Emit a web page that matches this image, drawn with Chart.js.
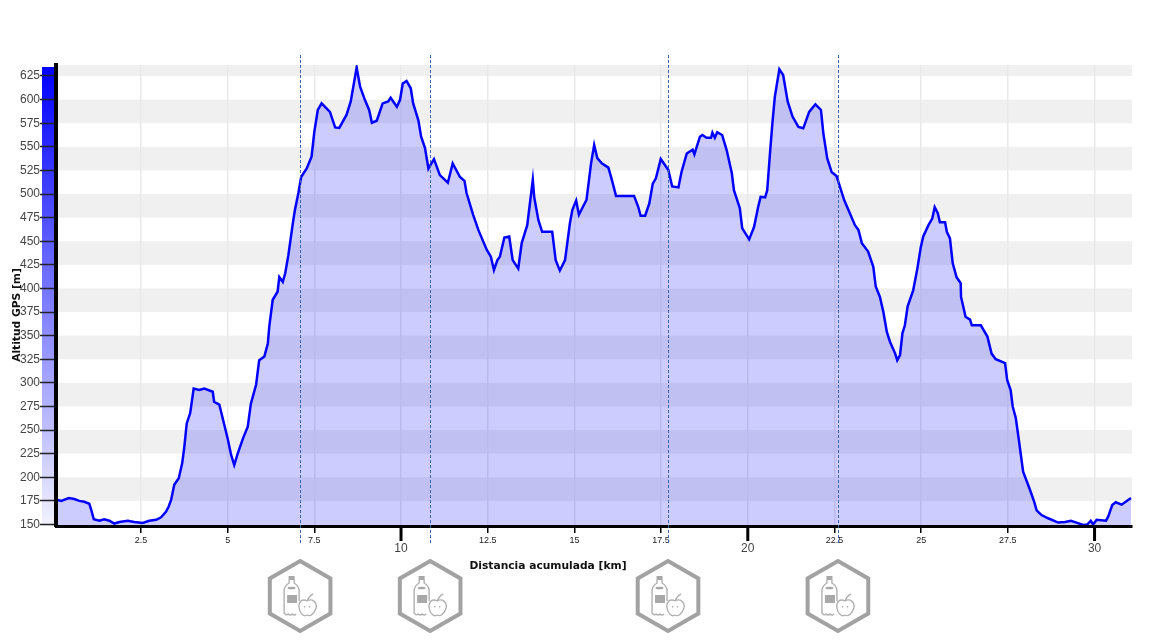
<!DOCTYPE html>
<html>
<head>
<meta charset="utf-8">
<title>Perfil de altitud</title>
<script src="https://cdn.jsdelivr.net/npm/chart.js@4/dist/chart.umd.min.js"></script>
<style>
html, body { margin: 0; padding: 0; background: #fff; }
canvas { display: block; }
</style>
</head>
<body>
<canvas id="perfil" width="1175" height="642"></canvas>
<script>
// perfil
var distancias = [0.05,0.10,0.20,0.42,0.58,0.72,0.87,1.01,1.07,1.14,1.30,1.44,1.59,1.73,1.88,2.12,2.31,2.55,2.74,2.94,3.08,3.22,3.30,3.37,3.46,3.59,3.69,3.75,3.82,3.92,4.02,4.18,4.33,4.57,4.61,4.76,4.88,5.00,5.10,5.19,5.29,5.44,5.58,5.67,5.82,5.91,6.06,6.16,6.20,6.30,6.44,6.49,6.59,6.66,6.75,6.88,6.94,7.04,7.12,7.28,7.42,7.50,7.60,7.71,7.95,8.10,8.22,8.43,8.55,8.72,8.82,8.96,9.08,9.16,9.30,9.47,9.63,9.70,9.88,9.97,10.05,10.16,10.28,10.35,10.50,10.58,10.69,10.79,10.95,11.12,11.35,11.49,11.70,11.83,11.89,12.08,12.23,12.47,12.59,12.68,12.78,12.85,12.98,13.12,13.22,13.38,13.48,13.58,13.64,13.80,13.84,13.96,14.07,14.36,14.46,14.58,14.73,14.87,14.94,15.05,15.13,15.35,15.48,15.57,15.66,15.79,15.98,16.08,16.20,16.72,16.84,16.91,17.04,17.16,17.26,17.35,17.49,17.71,17.82,18.00,18.09,18.24,18.41,18.46,18.62,18.69,18.81,18.94,18.98,19.05,19.12,19.26,19.39,19.54,19.60,19.77,19.84,20.04,20.18,20.30,20.37,20.50,20.56,20.64,20.71,20.78,20.91,21.02,21.15,21.29,21.46,21.60,21.77,21.95,22.11,22.18,22.29,22.42,22.56,22.78,23.09,23.19,23.29,23.47,23.62,23.69,23.81,23.91,24.01,24.10,24.25,24.31,24.39,24.46,24.53,24.61,24.77,24.89,24.99,25.06,25.21,25.32,25.39,25.48,25.54,25.69,25.74,25.83,25.91,26.02,26.14,26.15,26.28,26.41,26.46,26.72,26.91,27.03,27.15,27.42,27.48,27.58,27.64,27.73,27.83,27.94,28.14,28.26,28.33,28.47,28.66,28.95,29.15,29.32,29.48,29.67,29.79,29.89,29.96,30.06,30.33,30.39,30.51,30.61,30.78,31.05];
var altitudes = [176,176,175,178,177,175,174,172,165,155.5,154,155.5,154,151,152.6,154,152.6,151.6,154,155,157.6,163.5,169,176,192,199,215,232,257,268,294,292.4,294,290.6,280,277,259,241,223.6,213,225,241,253.6,278,298,324,328,342,359.5,388,396.5,412,407,416,435,469,483,501,518,527,539.5,566,589,596,587,570.6,570,584,598,634,613.6,599.5,589,575.5,577.6,596,598,602,592.5,599.5,617,619.7,612,596,578,560.7,549,527,537,520,512,532.5,518,514,501,478,462,441,433.6,419.5,430,433.6,454,455,430,421,448,460,467,515,497,472.5,460,460,430,419,430,469,483,493,478,494,532.5,552,538,532.5,528,515,498,498,486.5,477,477,490,511,516.6,537,525.4,508,507,523.6,543,547,542,560.7,562.5,559.6,559.6,565,559.6,565.5,562.5,546.6,522,504,485,463.7,452,465,486.5,497,496.5,504,543,575,603,632,626,598,582,571,569.6,587,595,589,564,538,523,519,493.6,467,462,448,439,423,402,391,375,354,343.6,331,324,329.5,352.5,361,381,398,421,444,455,467,474,486,479.6,470,470,460,453,426.6,412,405.5,391,370,367,361,361,349,331,325,321,303,292.4,275,262.5,236,206,186.5,174,165,160,156.6,152,152.6,154,152,149.5,150,154,150,155,154,158,170.6,173.5,171,178];

var ticksDistancia = [2.5,5,7.5,10,12.5,15,17.5,20,22.5,25,27.5,30];
var ticksMayores = [10,20,30];
var ticksAltitud = [150,175,200,225,250,275,300,325,350,375,400,425,450,475,500,525,550,575,600,625];
var avituallamientos = [7.09,10.84,17.70,22.60];

var tituloY = 'Altitud GPS [m]';
var tituloX = 'Distancia acumulada [km]';

function esMayor(c) {
    return !!c.tick && ticksMayores.indexOf(c.tick.value) >= 0;
}

// icono de avituallamiento: hexagono, botella y manzana
function dibujaIcono(ctx, cx, cy) {
    ctx.save();
    ctx.translate(cx, cy);
    ctx.strokeStyle = '#a2a2a2';
    ctx.lineJoin = 'miter';
    ctx.lineWidth = 4;
    ctx.beginPath();
    for (var i = 0; i < 6; i++) {
        var a = Math.PI / 3 * i - Math.PI / 2;
        var px = Math.cos(a) * 35;
        var py = Math.sin(a) * 35;
        if (i === 0) ctx.moveTo(px, py); else ctx.lineTo(px, py);
    }
    ctx.closePath();
    ctx.stroke();

    // botella
    ctx.strokeStyle = '#b0b0b0';
    ctx.lineWidth = 1.4;
    ctx.beginPath();
    ctx.moveTo(-11, -16);
    ctx.lineTo(-11, -13);
    ctx.quadraticCurveTo(-16, -10, -16, -5);
    ctx.lineTo(-16, 17);
    ctx.quadraticCurveTo(-14, 20, -12, 18);
    ctx.quadraticCurveTo(-10, 20, -8, 18);
    ctx.quadraticCurveTo(-6, 20, -4, 18);
    ctx.moveTo(-1, 5);
    ctx.lineTo(-1, -5);
    ctx.quadraticCurveTo(-1, -10, -6, -13);
    ctx.lineTo(-6, -16);
    ctx.stroke();
    ctx.fillStyle = '#a8a8a8';
    ctx.fillRect(-11.5, -20, 6, 4);
    ctx.fillRect(-13, -1, 10, 8);
    ctx.beginPath();
    ctx.ellipse(-8.5, -8, 4, 1.3, 0, 0, Math.PI * 2);
    ctx.fill();

    // manzana
    ctx.beginPath();
    ctx.moveTo(7, 5);
    ctx.bezierCurveTo(2, 2, -2, 6, -1, 12);
    ctx.bezierCurveTo(0, 18, 4, 21, 7, 19);
    ctx.bezierCurveTo(10, 21, 14, 18, 16, 12);
    ctx.bezierCurveTo(17, 6, 12, 2, 7, 5);
    ctx.moveTo(7, 5);
    ctx.quadraticCurveTo(9, 0, 13, -2);
    ctx.stroke();
    ctx.fillRect(4, 10, 1.2, 1.5);
    ctx.fillRect(9, 10, 1.2, 1.5);
    ctx.restore();
}

var fondoPlugin = {
    id: 'fondoPlugin',
    beforeDraw: function (chart) {
        var ctx = chart.ctx, area = chart.chartArea, y = chart.scales.y;
        ctx.save();

        // barra con degradado a la izquierda del eje
        var g = ctx.createLinearGradient(0, 67, 0, area.bottom);
        g.addColorStop(0, '#0000ff');
        g.addColorStop(1, '#f2f2ff');
        ctx.fillStyle = g;
        ctx.fillRect(42, 67, 13, area.bottom - 67);

        // franjas grises: de 175 a 200, de 225 a 250, ... y el trozo por encima de 625
        ctx.fillStyle = '#f0f0f0';
        for (var j = 1; j < ticksAltitud.length; j += 2) {
            var abajo = y.getPixelForValue(ticksAltitud[j]);
            var arriba = j + 1 < ticksAltitud.length ? y.getPixelForValue(ticksAltitud[j + 1]) : area.top;
            ctx.fillRect(area.left, arriba, area.right - area.left, abajo - arriba);
        }
        ctx.restore();
    },
    afterDraw: function (chart) {
        var ctx = chart.ctx, area = chart.chartArea, x = chart.scales.x;
        ctx.save();

        // ticks mayores del eje x
        ctx.strokeStyle = '#000';
        ctx.lineWidth = 3;
        ticksMayores.forEach(function (km) {
            var px = x.getPixelForValue(km);
            ctx.beginPath();
            ctx.moveTo(px, area.bottom);
            ctx.lineTo(px, area.bottom + 15);
            ctx.stroke();
        });

        // lineas de avituallamiento
        ctx.strokeStyle = '#3f63ad';
        ctx.lineWidth = 1;
        ctx.setLineDash([3, 2]);
        avituallamientos.forEach(function (km) {
            var px = Math.round(x.getPixelForValue(km)) + 0.5;
            ctx.beginPath();
            ctx.moveTo(px, 55);
            ctx.lineTo(px, 543);
            ctx.stroke();
        });
        ctx.setLineDash([]);

        avituallamientos.forEach(function (km) {
            dibujaIcono(ctx, x.getPixelForValue(km), 596);
        });

        // titulos
        ctx.fillStyle = '#111';
        ctx.font = 'bold 10.7px "DejaVu Sans"';
        ctx.textAlign = 'center';
        ctx.textBaseline = 'middle';
        ctx.fillText(tituloX, 548, 566);
        ctx.translate(17, 315);
        ctx.rotate(-Math.PI / 2);
        ctx.fillText(tituloY, 0, 0);
        ctx.restore();
    }
};

var puntos = distancias.map(function (d, i) {
    return { x: d, y: altitudes[i] };
});

var ctx = document.getElementById('perfil').getContext('2d');
var grafico = new Chart(ctx, {
    type: 'line',
    data: {
        datasets: [{
            data: puntos,
            borderColor: '#0000ff',
            backgroundColor: 'rgba(0,0,255,0.2)',
            borderWidth: 2.5,
            pointRadius: 0,
            tension: 0,
            fill: 'start'
        }]
    },
    options: {
        responsive: false,
        animation: false,
        layout: { padding: { left: 0, top: 65, right: 43, bottom: 0 } },
        plugins: { legend: { display: false }, tooltip: { enabled: false }, title: { display: false } },
        scales: {
            x: {
                type: 'linear',
                min: 0.05,
                max: 31.08,
                afterBuildTicks: function (axis) {
                    axis.ticks = ticksDistancia.map(function (v) { return { value: v }; });
                },
                afterFit: function (axis) { axis.height = 116; },
                border: { color: '#000', width: 3, z: 1 },
                grid: {
                    color: '#e9e9e9',
                    lineWidth: 1.5,
                    tickColor: '#000',
                    tickWidth: 1.5,
                    tickLength: 7
                },
                ticks: {
                    autoSkip: false,
                    maxRotation: 0,
                    padding: 2,
                    color: function (c) { return esMayor(c) ? '#444' : '#222'; },
                    font: function (c) {
                        return esMayor(c)
                            ? { family: 'Liberation Sans', size: 12, lineHeight: 0.75 }
                            : { family: 'Liberation Sans', size: 9 };
                    },
                    callback: function (v) {
                        return ticksMayores.indexOf(v) >= 0 ? ['', String(v)] : String(v);
                    }
                }
            },
            y: {
                type: 'linear',
                min: 148.4,
                max: 636.65,
                afterBuildTicks: function (axis) {
                    axis.ticks = ticksAltitud.map(function (v) { return { value: v }; });
                },
                afterFit: function (axis) { axis.width = 56; },
                border: { color: '#000', width: 4, z: 1 },
                grid: {
                    drawOnChartArea: false,
                    tickColor: '#222',
                    tickWidth: 1.5,
                    tickLength: 16
                },
                ticks: {
                    autoSkip: false,
                    padding: 0,
                    color: '#444',
                    font: { family: 'Liberation Sans', size: 12 }
                }
            }
        }
    },
    plugins: [fondoPlugin]
});
</script>
</body>
</html>
